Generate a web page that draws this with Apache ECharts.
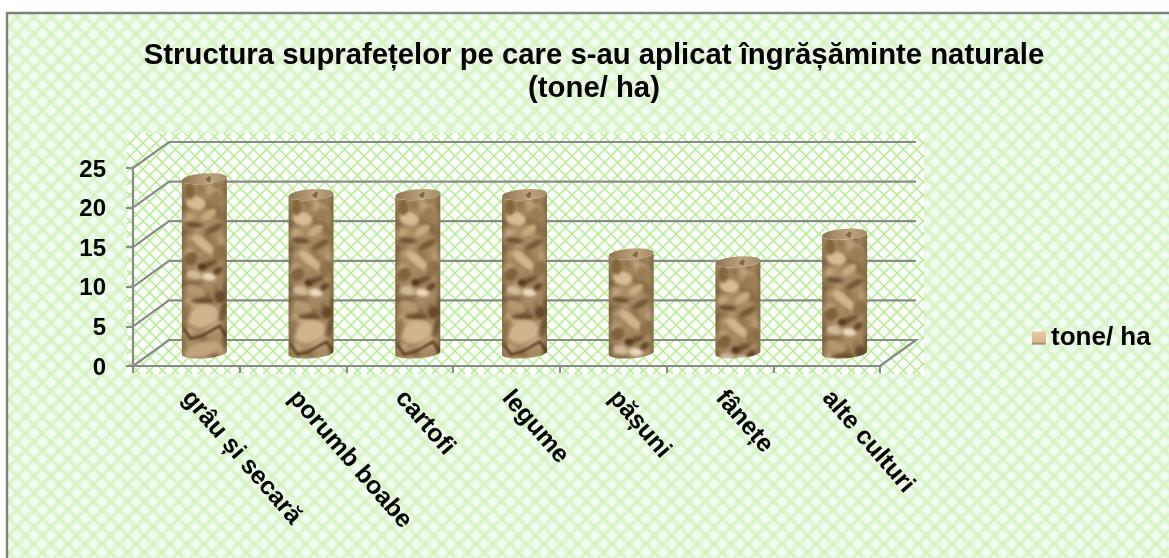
<!DOCTYPE html>
<html><head><meta charset="utf-8">
<style>html,body{margin:0;padding:0;background:#fff}#c{width:1169px;height:558px}</style>
<script src="https://cdn.jsdelivr.net/npm/echarts@6/dist/echarts.min.js"></script>
</head><body><div id="c"></div>
<script>
const categories = ['grâu și secară','porumb boabe','cartofi','legume','pășuni','fânețe','alte culturi'];
const values = [22, 20, 20, 20, 12.5, 11.5, 15];
const yTicks = [0,5,10,15,20,25];
const seriesName = 'tone/ ha';
const titleText = 'Structura suprafețelor pe care s-au aplicat îngrășăminte naturale\n(tone/ ha)';
const FONT = '"Liberation Sans", Arial, sans-serif';
const DX = 36, DY = -26, BAR_W = 45, GRID = '#8a8a8a';

function mk(w,h){const c=document.createElement('canvas');c.width=w;c.height=h;return c;}
function lattice(p,bg,line,lw,blur,center){
  const big=mk(p*3,p*3),x=big.getContext('2d');
  x.fillStyle=bg;x.fillRect(0,0,p*3,p*3);
  if(center){x.filter='blur('+(p/6)+'px)';x.fillStyle=center;
    for(let a=0;a<4;a++)for(let b=0;b<4;b++){for(const o of [[0,p/2],[p/2,0]]){
      x.beginPath();x.arc(a*p+o[0],b*p+o[1],p*0.24,0,7);x.fill();}}
    x.filter='none';}
  x.strokeStyle=line;x.lineWidth=lw;if(blur)x.filter='blur('+blur+'px)';
  x.beginPath();
  for(let s=-3*p;s<=3*p;s+=p){x.moveTo(s,0);x.lineTo(s+3*p,3*p);x.moveTo(s+3*p,0);x.lineTo(s,3*p);}
  x.stroke();x.filter='none';
  const c=mk(p,p);c.getContext('2d').drawImage(big,p,p,p,p,0,0,p,p);return c;
}
function rockTexture(){
  const W=45,H=200,c=mk(W,H),x=c.getContext('2d');
  x.fillStyle='#b0936a';x.fillRect(0,0,W,H);
  x.filter='blur(2.4px)';
  for(let i=0;i<80;i++){
    const a=(Math.sin(i*12.9898)*43758.5453)%1,b=(Math.sin(i*78.233)*12543.123)%1,r=(Math.sin(i*37.719)*9631.77)%1;
    const px=Math.abs(a)*W,py=Math.abs(b)*H,rr=Math.abs(r);
    x.fillStyle=i%3==0?'#856a46':(i%3==1?'#cbb188':'#a58860');
    x.beginPath();x.ellipse(px,py,4+rr*9,1.5+rr*3,(a-0.2)*2.2,0,7);x.fill();
  }
  x.filter='blur(1.6px)';
  const blots=[
   [14,24,10,7,.2,'#dcc49c'],[34,20,7,8,.6,'#a08258'],[8,12,5,9,0,'#86693f'],
   [12,46,9,3,.1,'#6f5434'],[32,50,10,3.5,-.5,'#785c3a'],[27,36,9,4,-.6,'#cdb288'],
   [22,66,13,5,.7,'#d6bc92'],[9,80,6,7,.5,'#836640'],[37,74,6,9,.3,'#94764e'],[26,86,10,3,-.4,'#6d5232'],
   [12,96,8,4,.3,'#d8c2a0'],[27,98,7,4,.1,'#f2e2ca'],[36,92,5,3,-.6,'#5f452a'],[20,88,4,3,.4,'#513a20'],
   [14,112,10,5,.4,'#b89e76'],[20,122,11,2.5,0,'#684c2c'],[38,118,5,6,.2,'#664c2e'],
   [22,137,15,11,-.4,'#d6bc92'],[5,134,3,11,.2,'#9c8058'],[41,133,3,10,.2,'#7a6040'],
   [30,150,9,4,-.5,'#cdb28a'],[22,170,17,7,-.2,'#c6ab82'],[6,160,4,3,0,'#a68a62']
  ];
  for(const [a,b,rx,ry,rot,col] of blots){x.fillStyle=col;x.beginPath();x.ellipse(a,b,rx,ry,rot,0,7);x.fill();}
  x.filter='blur(.8px)';
  x.strokeStyle='#543b1d';x.lineWidth=2.6;x.beginPath();x.moveTo(2,150);x.lineTo(9,160);x.lineTo(20,157);x.lineTo(38,147);x.lineTo(45,158);x.stroke();
  x.filter='none';
  const g=x.createLinearGradient(0,0,W,0);
  g.addColorStop(0,'rgba(70,45,15,.4)');g.addColorStop(.14,'rgba(70,45,15,.05)');
  g.addColorStop(.86,'rgba(70,45,15,.05)');g.addColorStop(1,'rgba(70,45,15,.4)');
  x.fillStyle=g;x.fillRect(0,0,W,H);
  return c;
}
const tex = rockTexture();
const outerPat = {image:lattice(17,'#ecfae1','#cff1b4',2.2,1.1,'#f4fdff'),repeat:'repeat'};
const wallPat = {image:lattice(13,'#ffffff','#aef08a',1.5,0.25),repeat:'repeat'};

function ellipsePts(cx,cy,rx,ry,tilt,from,to){
  const p=[],n=24;
  for(let i=0;i<=n;i++){const t=from+(to-from)*i/n,ex=rx*Math.cos(t),ey=ry*Math.sin(t);
    p.push([cx+ex,cy+ey+ex*tilt]);}
  return p;
}
function renderWall(params,api){
  const v=api.value(1),cs=params.coordSys,y=api.coord([0,v])[1],x0=cs.x,x1=cs.x+cs.width;
  const pts=[[x0,y],[x0+DX,y+DY],[x1+DX,y+DY]];
  if(v===0)pts.push([x1,y]);
  return {type:'polyline',shape:{points:pts},style:{stroke:GRID,lineWidth:2.2,fill:null}};
}
function renderBar(params,api){
  const i=api.value(0),v=api.value(1),top=api.coord([i,v]),base=api.coord([i,0]);
  const cx=top[0]+DX/2,yt=top[1]+DY/2,yb=base[1]+DY/2,rx=BAR_W/2,ry=5.4,tilt=-0.07;
  const body=[...ellipsePts(cx,yb,rx,ry,tilt,Math.PI,0),...ellipsePts(cx,yt,rx,ry,tilt,0,Math.PI)];
  const cap=ellipsePts(cx,yt,rx,ry,tilt,0,2*Math.PI);
  return {type:'group',children:[
    {type:'polygon',shape:{points:body},style:{fill:{image:tex,repeat:'repeat',x:cx-rx,y:yt}}},
    {type:'polygon',shape:{points:cap},style:{fill:new echarts.graphic.LinearGradient(0,0,1,0,[
      {offset:0,color:'#8a7150'},{offset:.3,color:'#a88e68'},{offset:.6,color:'#bda47e'},{offset:1,color:'#a48a66'}])}},
    {type:'polygon',shape:{points:[[cx+1,yt+1],[cx+5,yt-3],[cx+7,yt-1],[cx+5,yt+4]]},style:{fill:'#6a5234',opacity:.75}}
  ]};
}
const chart=echarts.init(document.getElementById('c'),null,{renderer:'canvas'});
chart.setOption({
  animation:false,
  backgroundColor:'#fff',
  title:{text:titleText,left:589,top:34,textAlign:'center',
    textStyle:{fontFamily:FONT,fontSize:29.3,fontWeight:'bold',color:'#000',lineHeight:33}},
  legend:{show:true,left:1027,top:320,itemWidth:14,itemHeight:13,itemGap:6,
    data:[{name:seriesName,icon:'rect',itemStyle:{color:new echarts.graphic.LinearGradient(0,0,0,1,[
      {offset:0,color:'#e8cba6'},{offset:.8,color:'#d9b68e'},{offset:1,color:'#94784f'}])}}],
    textStyle:{fontFamily:FONT,fontSize:26,fontWeight:'bold',color:'#000',padding:0}},
  graphic:[
    {type:'rect',z:-2,silent:true,shape:{x:8,y:14,width:1161,height:544},style:{fill:outerPat}},
    {type:'rect',z:-1,silent:true,shape:{x:127,y:133,width:797,height:241},style:{fill:wallPat}},
    {type:'polyline',z:-1,silent:true,shape:{points:[[7,558],[7,13],[1169,13]]},style:{stroke:'#808080',lineWidth:2.4,fill:null}}
  ],
  grid:{left:133,right:289,top:168,bottom:192,containLabel:false},
  xAxis:{type:'category',data:categories,
    axisLine:{lineStyle:{color:GRID,width:2.2}},
    axisTick:{show:true,length:7,lineStyle:{color:GRID,width:2},alignWithLabel:false},
    axisLabel:{interval:0,rotate:-49,margin:28,fontFamily:FONT,fontSize:25,fontWeight:'bold',color:'#000'},
    splitLine:{show:false}},
  yAxis:{type:'value',min:0,max:25,interval:5,
    axisLine:{show:true,lineStyle:{color:GRID,width:2.2}},
    axisTick:{show:true,length:7,lineStyle:{color:GRID,width:2}},
    axisLabel:{margin:27,formatter:'{a|{value}}',
      rich:{a:{padding:[4,0,0,0],fontFamily:FONT,fontSize:24,fontWeight:'bold',color:'#000'}}},
    splitLine:{show:false}},
  series:[
    {name:'walls',type:'custom',silent:true,clip:false,z:1,renderItem:renderWall,
      data:yTicks.map(t=>[0,t]),encode:{x:0,y:1}},
    {name:seriesName,type:'custom',clip:false,z:3,renderItem:renderBar,
      data:values.map((v,i)=>[i,v]),encode:{x:0,y:1}}
  ]
});
</script></body></html>
